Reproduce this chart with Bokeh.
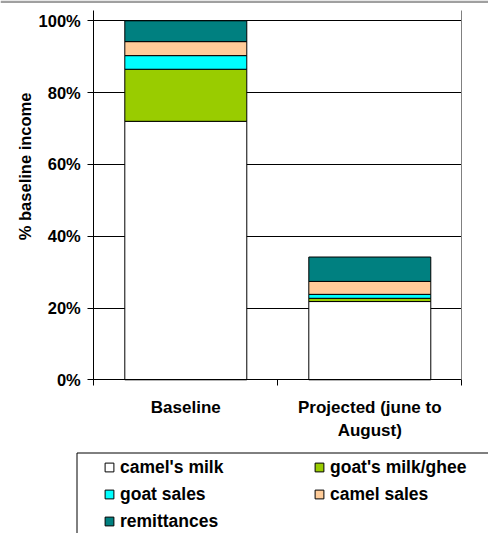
from bokeh.plotting import figure
from bokeh.models import (ColumnDataSource, Range1d, FixedTicker, NumeralTickFormatter,
                          LinearAxis, Legend, LegendItem, BoxAnnotation, Label, Grid)
from bokeh.embed import file_html
from bokeh.resources import INLINE

categories = ["Baseline", "Projected (june to\nAugust)"]
series = ["camel's milk", "goat's milk/ghee", "goat sales", "camel sales", "remittances"]
colors = ["#FFFFFF", "#99CC00", "#00FFFF", "#FFCC99", "#008080"]
camels_milk = [0.72, 0.218]
goats_milk_ghee = [0.145, 0.009]
goat_sales = [0.038, 0.011]
camel_sales = [0.039, 0.036]
remittances = [0.058, 0.068]
y_ticks = [0, 0.2, 0.4, 0.6, 0.8, 1.0]
y_axis_top = 1.0287

FONT = "Liberation Sans"
W, H = 488, 533
keys = ["camels_milk", "goats_milk_ghee", "goat_sales", "camel_sales", "remittances"]
x_pos = [i + 0.5 for i in range(len(categories))]
ncat = len(categories)
source = ColumnDataSource(dict(x=x_pos, camels_milk=camels_milk, goats_milk_ghee=goats_milk_ghee,
                               goat_sales=goat_sales, camel_sales=camel_sales,
                               remittances=remittances))

# plot area: x 93.3..461.3 px, y 379.3 (0%) .. 20.3 (100%) px; frame covers whole canvas
px_x = (461.3 - 93.3) / ncat
px_y = 379.3 - 20.3
x_range = Range1d(-93.3 / px_x, ncat + (W - 461.3) / px_x)
y_range = Range1d(-(H - 379.3) / px_y, 379.3 / px_y)

p = figure(width=W, height=H, x_range=x_range, y_range=y_range,
           output_backend="svg", toolbar_location=None, x_axis_type=None, y_axis_type=None,
           min_border=0)
p.outline_line_color = None
p.background_fill_color = "white"
p.border_fill_color = "white"

# grid
grid_kw = dict(dimension=1, ticker=FixedTicker(ticks=y_ticks), grid_line_color="black",
               grid_line_width=1)
if "cross_bounds" in Grid.properties():
    p.add_layout(Grid(cross_bounds=(0, ncat), **grid_kw))
else:
    p.segment(x0=[0] * len(y_ticks), x1=[ncat] * len(y_ticks), y0=y_ticks, y1=y_ticks,
              line_color="black", line_width=1)

p.vbar_stack(stackers=keys, x="x", width=0.663, fill_color=colors, line_color="black",
             line_width=1, source=source)

# y axis
ya = LinearAxis(fixed_location=0, bounds=(0, y_axis_top), ticker=FixedTicker(ticks=y_ticks),
                formatter=NumeralTickFormatter(format="0%"),
                major_label_text_font=FONT, major_label_text_font_size="16.5px",
                major_label_text_font_style="bold", major_label_text_color="black",
                major_tick_out=6, major_tick_in=0, minor_tick_line_color=None,
                axis_line_color="black", major_tick_line_color="black", major_label_standoff=7)
p.add_layout(ya, "left")

# x axis
xa = LinearAxis(fixed_location=0, bounds=(0, ncat),
                ticker=FixedTicker(ticks=x_pos, minor_ticks=list(range(ncat + 1))),
                major_label_overrides={x: c for x, c in zip(x_pos, categories)},
                major_label_text_font=FONT, major_label_text_font_size="17px",
                major_label_text_font_style="bold", major_label_text_color="black",
                major_tick_line_color=None, major_tick_out=0, major_tick_in=0,
                minor_tick_out=6, minor_tick_in=0, minor_tick_line_color="black",
                axis_line_color="black", major_label_standoff=12)
p.add_layout(xa, "below")

# right border line
ra = LinearAxis(fixed_location=ncat, bounds=(0, y_axis_top), ticker=FixedTicker(ticks=[]),
                axis_line_color="#808080", major_tick_line_color=None,
                minor_tick_line_color=None, major_label_text_font_size="0px")
p.add_layout(ra, "right")

# y title
p.add_layout(Label(x=24.4, y=H - 165.9, x_units="screen", y_units="screen",
                   text="% baseline income", angle=90, angle_units="deg",
                   text_align="center", text_baseline="middle", text_font=FONT,
                   text_font_size="16.5px", text_font_style="bold", text_color="black"))

# top grey strip
p.add_layout(BoxAnnotation(left=0, right=W, top=0, bottom=2.5, left_units="canvas",
                           right_units="canvas", top_units="canvas", bottom_units="canvas",
                           fill_color="#A0A0A0", fill_alpha=1, line_alpha=0))

# legend (swatch-only renderers, nothing drawn in the plot)
nan = float("nan")
dummies = [p.scatter(x=[nan], y=[nan], marker="square", fill_color=c, line_color="black",
                     line_width=1) for c in colors]
common = dict(padding=0, spacing=5, glyph_width=22, glyph_height=22, label_height=22,
              label_standoff=0, label_text_font=FONT, label_text_font_size="17.5px",
              label_text_font_style="bold", label_text_color="black", border_line_alpha=0,
              background_fill_alpha=0, margin=0)
leg1 = Legend(items=[LegendItem(label=series[i], renderers=[dummies[i]]) for i in (0, 2, 4)],
              location=(98, 1), **common)
leg2 = Legend(items=[LegendItem(label=series[i], renderers=[dummies[i]]) for i in (1, 3)],
              location=(308, 28), **common)
p.add_layout(leg1)
p.add_layout(leg2)

p.add_layout(BoxAnnotation(left=76.5, right=2000, top=452.5, bottom=2000,
                           left_units="canvas", right_units="canvas", top_units="canvas",
                           bottom_units="canvas", fill_alpha=0, line_color="black",
                           line_width=1, line_alpha=1))

open("out.html", "w").write(file_html(p, INLINE))
